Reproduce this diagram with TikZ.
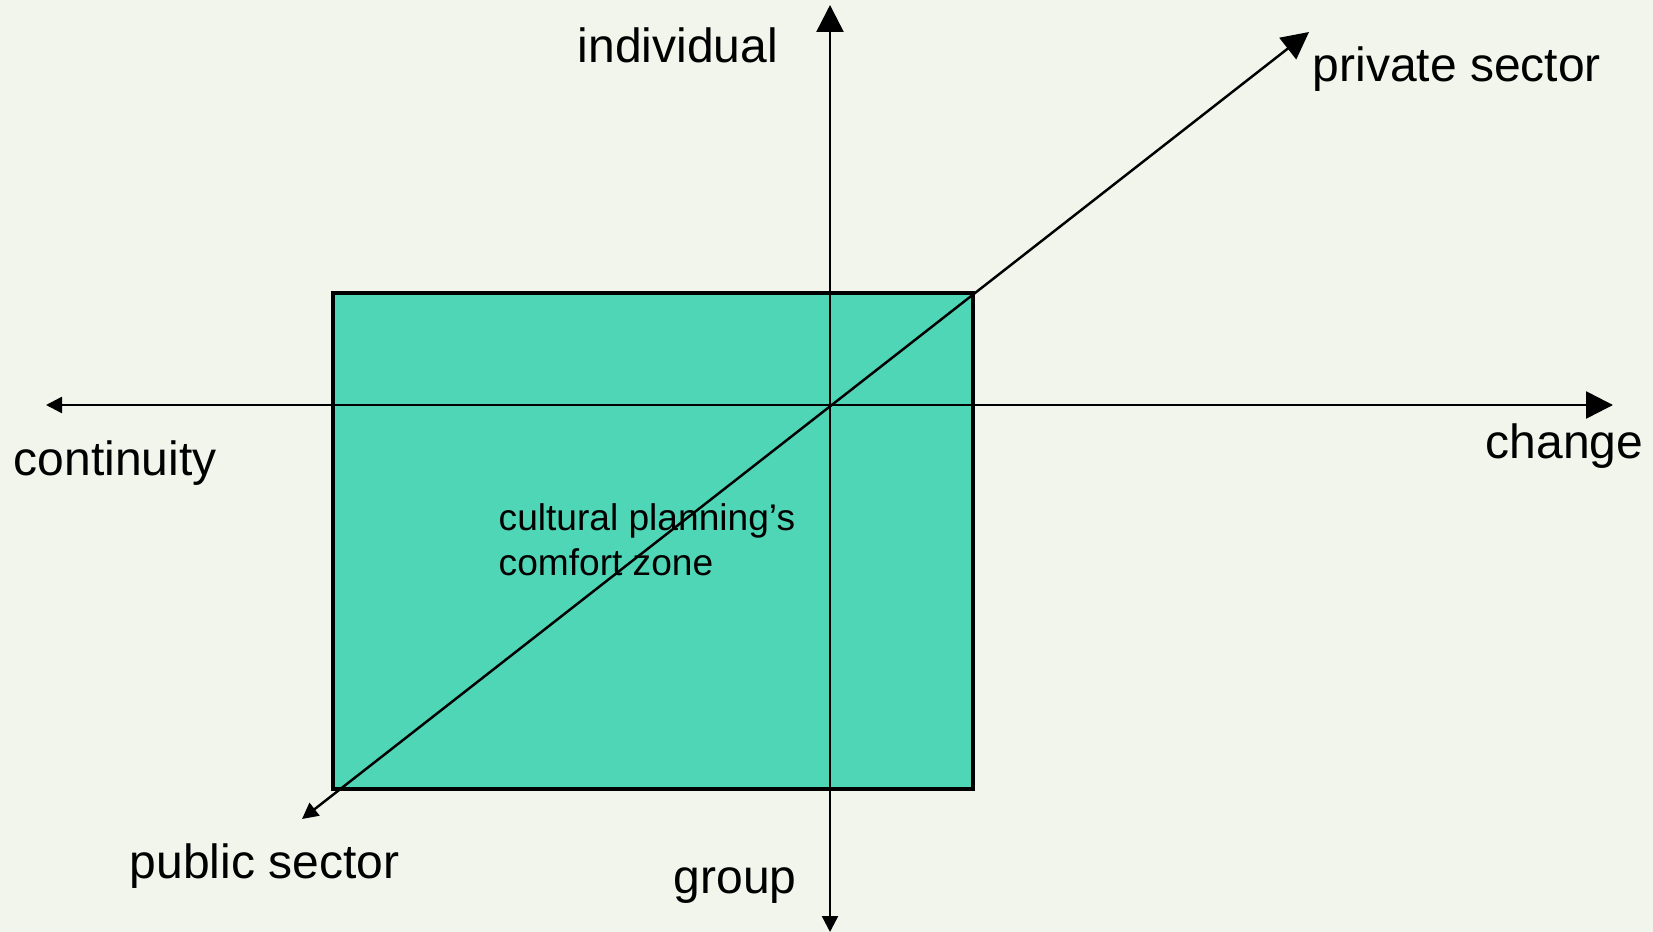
\documentclass[tikz,border=0pt]{standalone}
\usepackage{fontspec}
\setmainfont{Liberation Sans}
\usetikzlibrary{arrows.meta, positioning}
\definecolor{PaleSage}{HTML}{F2F5EC}
\definecolor{ZoneTeal}{RGB}{78,214,182}

\tikzset{
  axis/.style={line width=0.7pt, {Triangle[length=1.6mm,width=1.6mm]}-{Triangle[length=2.7mm,width=2.7mm]}},
  axislabel/.style={inner sep=0pt, anchor=base west, font=\fontsize{13.66}{16}\selectfont},
}

\begin{document}
\begin{tikzpicture}[x=0.1mm, y=-0.1mm]
    \fill[PaleSage] (0,0) rectangle (1653,932);
    \useasboundingbox (0,0) rectangle (1653,932);

    % comfort zone box
    \node (zone) [rectangle, draw, line width=1pt, fill=ZoneTeal, minimum width=64mm, minimum height=49.6mm, inner sep=0pt] at (653,541) {};
    \node (zonetext) [inner sep=0pt, anchor=base west, align=left, font=\fontsize{10.56}{12.8}\selectfont] at (498,575) {cultural planning’s\\comfort zone};

    % axis ends
    \coordinate (top) at (830,5);
    \coordinate (bottom) at (830,932);
    \coordinate (left) at (46,405);
    \coordinate (right) at (1613,405);
    \coordinate (sw) at (302,819);
    \coordinate (ne) at (1309,32);

    \draw[axis] (bottom) -- (top);
    \draw[axis] (left) -- (right);
    \draw[axis] (sw) -- (ne);

    \node (individual) [axislabel] at (577,63) {individual};
    \node (group) [axislabel] at (673,893) {group};
    \node (continuity) [axislabel] at (13,476) {continuity};
    \node (change) [axislabel] at (1485,459) {change};
    \node (private) [axislabel] at (1312,82) {private sector};
    \node (public) [axislabel] at (129,878) {public sector};
\end{tikzpicture}
\end{document}
